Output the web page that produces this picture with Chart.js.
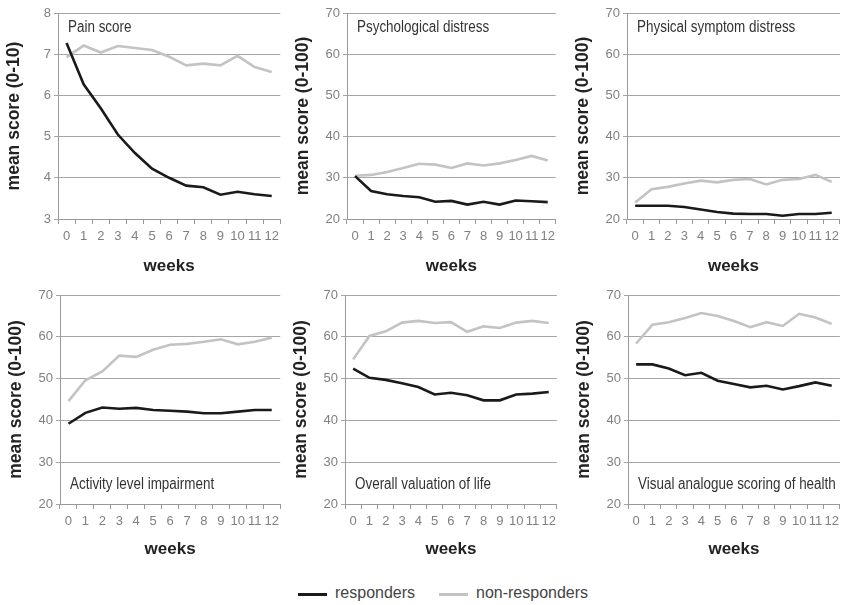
<!DOCTYPE html>
<html>
<head>
<meta charset="utf-8">
<script src="https://cdn.jsdelivr.net/npm/chart.js@4.4.1/dist/chart.umd.min.js"></script>
<style>
  body { margin: 0; background: #fff; width: 844px; height: 605px; position: relative; overflow: hidden; }
  canvas { position: absolute; }
  #legend { position: absolute; top: 583px; left: 0; width: 844px; height: 22px; font-family: "Liberation Sans", Arial, sans-serif; font-size: 16px; color: #444; }
  .lg { position: absolute; top: 0; line-height: 20px; }
  .sw { position: absolute; top: 10px; height: 3px; width: 29px; }
</style>
</head>
<body>
<canvas id="c1"></canvas>
<canvas id="c2"></canvas>
<canvas id="c3"></canvas>
<canvas id="c4"></canvas>
<canvas id="c5"></canvas>
<canvas id="c6"></canvas>
<div id="legend">
  <div class="sw" style="left:298px;background:#1a1a1a"></div>
  <div class="lg" style="left:335px">responders</div>
  <div class="sw" style="left:439px;background:#c3c3c3"></div>
  <div class="lg" style="left:476px">non-responders</div>
</div>
<script>
const weeks = ["0", "1", "2", "3", "4", "5", "6", "7", "8", "9", "10", "11", "12"];

const painResp    = [7.27, 6.27, 5.69, 5.05, 4.6, 4.22, 4.0, 3.81, 3.77, 3.59, 3.66, 3.6, 3.56];
const painNonResp = [6.93, 7.21, 7.04, 7.2, 7.15, 7.1, 6.94, 6.73, 6.77, 6.73, 6.96, 6.69, 6.57];

const psychResp    = [30.4, 26.8, 26.0, 25.6, 25.3, 24.2, 24.4, 23.5, 24.2, 23.5, 24.5, 24.3, 24.1];
const psychNonResp = [30.5, 30.7, 31.4, 32.4, 33.4, 33.2, 32.4, 33.5, 33.0, 33.5, 34.3, 35.3, 34.2];

const physResp    = [23.2, 23.2, 23.2, 22.9, 22.3, 21.7, 21.3, 21.2, 21.2, 20.8, 21.2, 21.2, 21.5];
const physNonResp = [24.0, 27.2, 27.8, 28.6, 29.3, 28.9, 29.5, 29.7, 28.4, 29.5, 29.7, 30.7, 29.0];

const activityResp    = [39.2, 41.8, 43.1, 42.8, 43.0, 42.5, 42.3, 42.1, 41.7, 41.7, 42.1, 42.5, 42.5];
const activityNonResp = [44.6, 49.6, 51.7, 55.5, 55.2, 56.9, 58.1, 58.3, 58.8, 59.4, 58.2, 58.8, 59.8];

const lifeResp    = [52.4, 50.2, 49.7, 48.9, 48.0, 46.2, 46.6, 46.0, 44.8, 44.8, 46.2, 46.4, 46.8];
const lifeNonResp = [54.6, 60.2, 61.3, 63.4, 63.8, 63.3, 63.5, 61.2, 62.5, 62.1, 63.4, 63.8, 63.3];

const vasResp    = [53.4, 53.4, 52.4, 50.8, 51.4, 49.5, 48.7, 47.9, 48.3, 47.4, 48.2, 49.1, 48.3];
const vasNonResp = [58.4, 62.9, 63.5, 64.5, 65.7, 65.0, 63.8, 62.3, 63.5, 62.6, 65.5, 64.6, 63.1];

const FONT = '"Liberation Sans", Arial, sans-serif';

// panel captions inside the plot, squeezed a bit to look like a condensed face
const innerLabel = {
  id: "innerLabel",
  afterDraw(chart, args, opts) {
    const { ctx, chartArea } = chart;
    ctx.save();
    ctx.font = "16px " + FONT;
    ctx.fillStyle = "#333";
    ctx.textBaseline = "middle";
    const y = opts.pos === "top" ? chartArea.top + 15 : chartArea.bottom - 19;
    ctx.translate(chartArea.left + 10, y);
    ctx.scale(0.84, 1);
    ctx.fillText(opts.text, 0, 0);
    ctx.restore();
  }
};

const panels = [
  { id: "c1", label: "Pain score", pos: "top", yTitle: "mean score (0-10)", min: 3, max: 8, step: 1, resp: painResp, non: painNonResp, box: [0, 0, 284, 279] },
  { id: "c2", label: "Psychological distress", pos: "top", yTitle: "mean score (0-100)", min: 20, max: 70, step: 10, resp: psychResp, non: psychNonResp, box: [289, 0, 271, 279] },
  { id: "c3", label: "Physical symptom distress", pos: "top", yTitle: "mean score (0-100)", min: 20, max: 70, step: 10, resp: physResp, non: physNonResp, box: [569, 0, 275, 279] },
  { id: "c4", label: "Activity level impairment", pos: "bottom", yTitle: "mean score (0-100)", min: 20, max: 70, step: 10, resp: activityResp, non: activityNonResp, box: [2, 282, 282, 280] },
  { id: "c5", label: "Overall valuation of life", pos: "bottom", yTitle: "mean score (0-100)", min: 20, max: 70, step: 10, resp: lifeResp, non: lifeNonResp, box: [287, 282, 274, 280] },
  { id: "c6", label: "Visual analogue scoring of health", pos: "bottom", yTitle: "mean score (0-100)", min: 20, max: 70, step: 10, resp: vasResp, non: vasNonResp, box: [570, 282, 274, 280] }
];

panels.forEach(p => {
  const canvas = document.getElementById(p.id);
  const [left, top, w, h] = p.box;
  canvas.width = w;
  canvas.height = h;
  canvas.style.left = left + "px";
  canvas.style.top = top + "px";

  new Chart(canvas, {
    type: "line",
    data: {
      labels: weeks,
      datasets: [
        { label: "responders", data: p.resp, borderColor: "#1a1a1a", borderWidth: 2.6, pointRadius: 0, tension: 0 },
        { label: "non-responders", data: p.non, borderColor: "#c3c3c3", borderWidth: 2.6, pointRadius: 0, tension: 0 }
      ]
    },
    options: {
      responsive: false,
      animation: false,
      layout: { padding: { top: 13, right: 1, left: 0, bottom: 0 } },
      plugins: {
        legend: { display: false },
        tooltip: { enabled: false },
        innerLabel: { text: p.label, pos: p.pos }
      },
      scales: {
        x: {
          offset: true,
          grid: { offset: true, drawOnChartArea: false, tickLength: 5, color: "#999" },
          border: { color: "#999" },
          ticks: { autoSkip: false, maxRotation: 0, padding: 5, color: "#808080", font: { family: FONT, size: 13 } },
          title: { display: true, text: "weeks", color: "#222", font: { family: FONT, size: 17, weight: "bold" }, padding: { top: 0, bottom: 2 } },
          afterFit: s => { s.height = p.box[3] === 280 ? 58 : 60; }
        },
        y: {
          min: p.min,
          max: p.max,
          ticks: { stepSize: p.step, padding: 3, color: "#808080", font: { family: FONT, size: 13 } },
          grid: { color: "#a6a6a6", tickLength: 4 },
          border: { color: "#999" },
          title: { display: true, text: p.yTitle, color: "#222", font: { family: FONT, size: 17.5, weight: "bold" }, padding: { top: 4, bottom: 0 } },
          afterFit: s => { s.width = 58; }
        }
      }
    },
    plugins: [innerLabel]
  });
});
</script>
</body>
</html>
